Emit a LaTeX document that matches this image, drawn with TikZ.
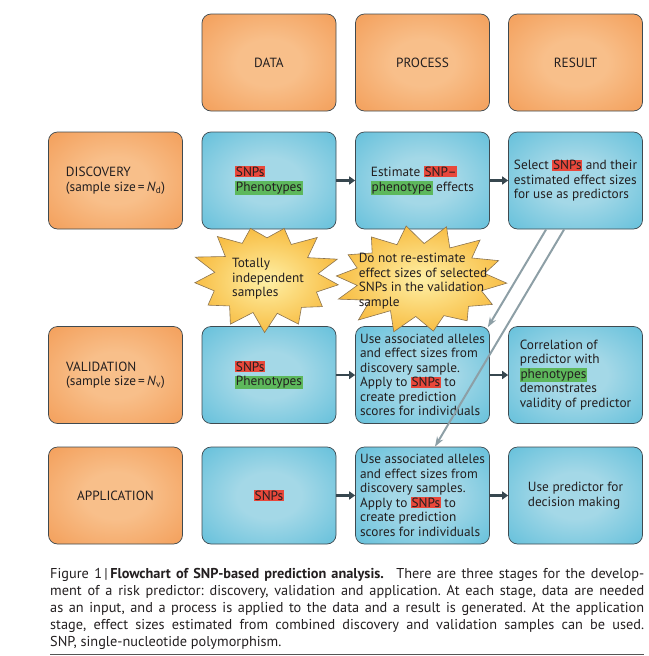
\documentclass[tikz,border=0pt]{standalone}
\usepackage{fontspec}
\setmainfont{PT Sans}
\usetikzlibrary{arrows.meta,calc}
\definecolor{oin}{HTML}{F8BF8A}
\definecolor{omid}{HTML}{F4A462}
\definecolor{oout}{HTML}{EE8C42}
\definecolor{bin}{HTML}{A4D8E7}
\definecolor{bmid}{HTML}{6FC4DD}
\definecolor{bout}{HTML}{3FAFD1}
\definecolor{boxline}{HTML}{3F4A50}
\definecolor{txt}{HTML}{231F20}
\definecolor{hlred}{HTML}{E8483B}
\definecolor{hlgreen}{HTML}{5DB85C}
\definecolor{arrowc}{HTML}{37474F}
\definecolor{grayarr}{HTML}{8D9FA6}
\definecolor{starin}{HTML}{FEF0A6}
\definecolor{starout}{HTML}{F8BE45}
\definecolor{starline}{HTML}{8A7350}
\definecolor{rulec}{HTML}{555555}
\pgfdeclareradialshading{oshade}{\pgfpoint{0bp}{0bp}}{color(0bp)=(oin); color(12bp)=(oin); color(32bp)=(omid); color(48bp)=(oout); color(100bp)=(oout)}
\pgfdeclareradialshading{bshade}{\pgfpoint{0bp}{0bp}}{color(0bp)=(bin); color(12bp)=(bin); color(32bp)=(bmid); color(48bp)=(bout); color(100bp)=(bout)}
\newcommand\hlr[1]{{\setlength{\fboxsep}{0.7pt}\colorbox{hlred}{#1}}}
\newcommand\hlg[1]{{\setlength{\fboxsep}{0.7pt}\colorbox{hlgreen}{#1}}}
\newcommand\boxfont{\fontsize{13.3}{14.5}\selectfont}
\newcommand\capfont{\fontsize{14.3}{17}\selectfont}
\frenchspacing
\begin{document}
\begin{tikzpicture}[x=1pt,y=-1pt,
  basebox/.style={rounded corners=9pt, draw=boxline, line width=0.7pt,
    minimum width=134pt, minimum height=97pt, inner sep=2pt,
    font=\boxfont, text=txt, align=left},
  obox/.style={basebox, shading=oshade},
  bbox/.style={basebox, shading=bshade},
  darr/.style={line width=2.6pt, draw=arrowc, -{Triangle[length=6pt,width=8pt]}},
  garr/.style={line width=2pt, draw=grayarr, -{Stealth[length=10pt,width=7pt]}},
  starsty/.style={shade, inner color=starin, outer color=starout, draw=starline, line width=0.6pt},
  startext/.style={font=\boxfont, text=txt, align=left, inner sep=0pt},
  capline/.style={anchor=base west, inner sep=0pt, font=\capfont, text=txt}]
\useasboundingbox (0,0) rectangle (648,656);

% header row
\node[obox] (hd) at (269,62.5) {DATA};
\node[obox] (hp) at (422.5,62.5) {PROCESS};
\node[obox] (hr) at (575.5,62.5) {RESULT};

% discovery
\node[obox] (d0) at (115.5,180.5) {DISCOVERY\\(sample size\,=\,\textit{N}\textsubscript{d})};
\node[bbox] (d1) at (269,180.5) {\hlr{SNPs}\\\hlg{Phenotypes}};
\node[bbox] (d2) at (422.5,180.5) {Estimate \hlr{SNP–}\\\hlg{phenotype} effects};
\node[bbox] (d3) at (575.5,180.5) {Select \hlr{SNPs} and their\\estimated effect sizes\\for use as predictors};

% validation
\node[obox] (v0) at (115.5,375) {VALIDATION\\(sample size\,=\,\textit{N}\textsubscript{v})};
\node[bbox] (v1) at (269,375) {\hlr{SNPs}\\\hlg{Phenotypes}};
\node[bbox] (v2) at (422.5,375) {Use associated alleles\\and effect sizes from\\discovery sample.\\Apply to \hlr{SNPs} to\\create prediction\\scores for individuals};
\node[bbox] (v3) at (575.5,375) {Correlation of\\predictor with\\\hlg{phenotypes}\\demonstrates\\validity of predictor};

% application
\node[obox] (a0) at (115.5,495.5) {APPLICATION};
\node[bbox] (a1) at (269,495.5) {\hlr{SNPs}};
\node[bbox] (a2) at (422.5,495.5) {Use associated alleles\\and effect sizes from\\discovery samples.\\Apply to \hlr{SNPs} to\\create prediction\\scores for individuals};
\node[bbox] (a3) at (575.5,495.5) {Use predictor for\\decision making};

% dark arrows
\draw[darr] (d1.east) -- (d2.west);
\draw[darr] (d2.east) -- (d3.west);
\draw[darr] (v1.east) -- (v2.west);
\draw[darr] (v2.east) -- (v3.west);
\draw[darr] (a1.east) -- (a2.west);
\draw[darr] (a2.east) -- (a3.west);

% stars
\path[starsty] plot[variable=\t, samples at={0,...,25}]
  ({266+(0.86+0.14*cos(\t*180))*(1+0.05*sin(\t*137))*73*cos(\t*360/26+8)},
   {277.5+(0.86+0.14*cos(\t*180))*(1+0.05*sin(\t*137))*52.5*sin(\t*360/26+8)}) -- cycle;
\path[starsty] plot[variable=\t, samples at={0,...,27}]
  ({420+(0.86+0.14*cos(\t*180))*(1+0.05*sin(\t*151))*87*cos(\t*360/28+4)},
   {279.5+(0.86+0.14*cos(\t*180))*(1+0.05*sin(\t*151))*52.5*sin(\t*360/28+4)}) -- cycle;
\node[startext] (s1) at (268,279) {Totally\\independent\\samples};
\node[startext] (s2) at (423,281) {Do not re-estimate\\effect sizes of selected\\SNPs in the validation\\sample};

% gray arrows
\coordinate (g1s) at ($(d3.south west)+(38,0)$);
\coordinate (g2s) at ($(d3.south west)+(56,0)$);
\coordinate (g1e) at ($(v2.north east)+(-2,1)$);
\coordinate (g2e) at ($(a2.north)+(12.5,0)$);
\draw[garr] (g1s) -- (g1e);
\draw[garr] (g2s) -- (g2e);

% caption
\node[capline] (c1) at (50,578) {\makebox[594pt][s]{Figure 1\,|\,\textbf{Flowchart of SNP-based prediction analysis.}\hspace{0.5em} There are three stages for the develop-}};
\node[capline] (c2) at (50,595) {\makebox[594pt][s]{ment of a risk predictor: discovery, validation and application. At each stage, data are needed}};
\node[capline] (c3) at (50,612) {\makebox[594pt][s]{as an input, and a process is applied to the data and a result is generated. At the application}};
\node[capline] (c4) at (50,629) {\makebox[594pt][s]{stage, effect sizes estimated from combined discovery and validation samples can be used.}};
\node[capline] (c5) at (50,646) {SNP, single-nucleotide polymorphism.};
\draw[line width=0.8pt, draw=rulec] (50,654) -- (644,654);
\end{tikzpicture}
\end{document}
